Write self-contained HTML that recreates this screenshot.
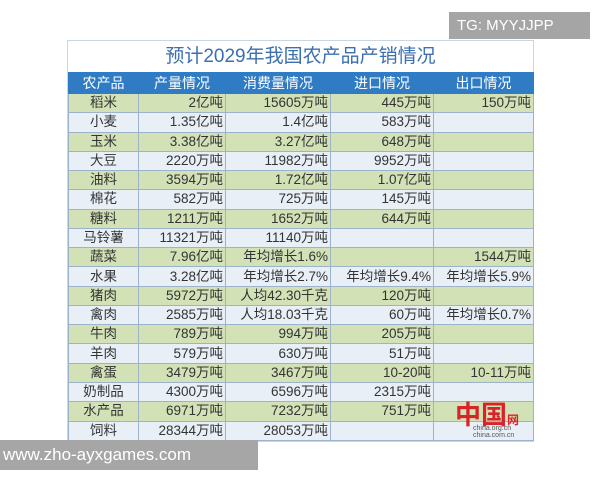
<!DOCTYPE html>
<html><head><meta charset="utf-8"><style>
body{margin:0;width:600px;height:480px;background:#fff;position:relative;overflow:hidden;font-family:"Liberation Sans","Noto Sans CJK SC",sans-serif;}
.wrap{position:absolute;left:67px;top:40px;width:465px;border:1px solid #c9d6e3;}
.title{height:31px;line-height:31px;text-align:center;font-size:19px;color:#3b6fb0;background:#fff;}
table{border-collapse:collapse;width:465px;table-layout:fixed;font-size:13.5px;color:#333;}
td{height:18.28px;padding:0 2px;border:1px solid #9db3c9;white-space:nowrap;text-align:right;line-height:18px;overflow:hidden;}
td:first-child{text-align:center;}
tr.h td{background:#2f7cc4;color:#fff;text-align:center;height:20px;border-color:#2f7cc4;font-size:14px;}
tr.g td{background:#d3e2b6;}
tr.l td{background:#e8eff7;}
.tg{position:absolute;left:449px;top:12px;width:141px;height:27px;background:#a5a5a5;color:#fff;font-size:15px;line-height:27px;padding-left:8px;box-sizing:border-box;}
.www{position:absolute;left:0;top:440px;width:258px;height:30px;background:#a6a6a6;color:#fff;font-size:17px;line-height:30px;padding-left:3px;box-sizing:border-box;}
.logo{position:absolute;left:455px;top:395px;color:#d8232a;font-size:26px;font-weight:bold;}
.logo2{position:absolute;left:473px;top:425px;color:#555;font-size:7px;line-height:7px;}
</style></head><body>
<div class="tg">TG: MYYJJPP</div>
<div class="wrap">
<div class="title">预计2029年我国农产品产销情况</div>
<table>
<colgroup><col style="width:70px"><col style="width:87px"><col style="width:105px"><col style="width:103px"><col style="width:100px"></colgroup>
<tr class="h"><td>农产品</td><td>产量情况</td><td>消费量情况</td><td>进口情况</td><td>出口情况</td></tr>
<tr class="g"><td>稻米</td><td>2亿吨</td><td>15605万吨</td><td>445万吨</td><td>150万吨</td></tr>
<tr class="l"><td>小麦</td><td>1.35亿吨</td><td>1.4亿吨</td><td>583万吨</td><td></td></tr>
<tr class="g"><td>玉米</td><td>3.38亿吨</td><td>3.27亿吨</td><td>648万吨</td><td></td></tr>
<tr class="l"><td>大豆</td><td>2220万吨</td><td>11982万吨</td><td>9952万吨</td><td></td></tr>
<tr class="g"><td>油料</td><td>3594万吨</td><td>1.72亿吨</td><td>1.07亿吨</td><td></td></tr>
<tr class="l"><td>棉花</td><td>582万吨</td><td>725万吨</td><td>145万吨</td><td></td></tr>
<tr class="g"><td>糖料</td><td>1211万吨</td><td>1652万吨</td><td>644万吨</td><td></td></tr>
<tr class="l"><td>马铃薯</td><td>11321万吨</td><td>11140万吨</td><td></td><td></td></tr>
<tr class="g"><td>蔬菜</td><td>7.96亿吨</td><td>年均增长1.6%</td><td></td><td>1544万吨</td></tr>
<tr class="l"><td>水果</td><td>3.28亿吨</td><td>年均增长2.7%</td><td>年均增长9.4%</td><td>年均增长5.9%</td></tr>
<tr class="g"><td>猪肉</td><td>5972万吨</td><td>人均42.30千克</td><td>120万吨</td><td></td></tr>
<tr class="l"><td>禽肉</td><td>2585万吨</td><td>人均18.03千克</td><td>60万吨</td><td>年均增长0.7%</td></tr>
<tr class="g"><td>牛肉</td><td>789万吨</td><td>994万吨</td><td>205万吨</td><td></td></tr>
<tr class="l"><td>羊肉</td><td>579万吨</td><td>630万吨</td><td>51万吨</td><td></td></tr>
<tr class="g"><td>禽蛋</td><td>3479万吨</td><td>3467万吨</td><td>10-20吨</td><td>10-11万吨</td></tr>
<tr class="l"><td>奶制品</td><td>4300万吨</td><td>6596万吨</td><td>2315万吨</td><td></td></tr>
<tr class="g"><td>水产品</td><td>6971万吨</td><td>7232万吨</td><td>751万吨</td><td></td></tr>
<tr class="l"><td>饲料</td><td>28344万吨</td><td>28053万吨</td><td></td><td></td></tr>
</table>
</div>
<div class="logo">中国<span style="font-size:12px">网</span></div>
<div class="logo2">china.org.cn<br>china.com.cn</div>
<div class="www">www.zho-ayxgames.com</div>
</body></html>
